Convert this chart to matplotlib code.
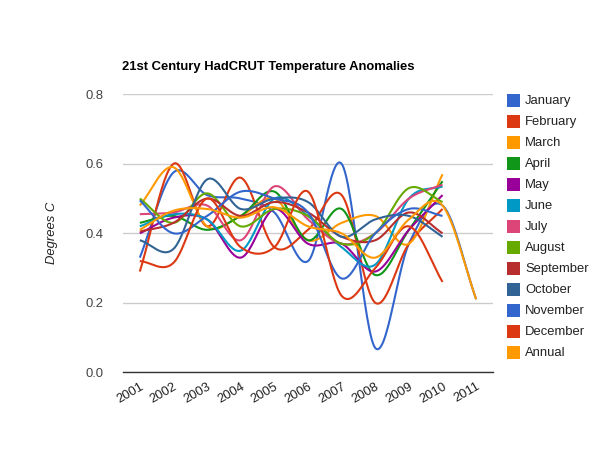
import numpy as np
import matplotlib.pyplot as plt
from matplotlib.patches import Rectangle

plt.rcParams['font.family'] = ['Liberation Sans', 'DejaVu Sans']

years = ['2001', '2002', '2003', '2004', '2005', '2006', '2007', '2008', '2009', '2010', '2011']

jan = [0.33, 0.575, 0.51, 0.50, 0.46, 0.32, 0.60, 0.07, 0.37, 0.48, 0.21]
feb = [0.29, 0.60, 0.42, 0.56, 0.36, 0.41, 0.51, 0.20, 0.37, 0.47]
mar = [0.48, 0.59, 0.42, 0.45, 0.50, 0.38, 0.43, 0.45, 0.37, 0.57]
apr = [0.43, 0.45, 0.41, 0.45, 0.52, 0.38, 0.47, 0.28, 0.41, 0.55]
may = [0.40, 0.445, 0.44, 0.33, 0.47, 0.37, 0.37, 0.29, 0.41, 0.51]
jun = [0.42, 0.455, 0.44, 0.35, 0.50, 0.45, 0.36, 0.31, 0.50, 0.535]
jul = [0.455, 0.46, 0.48, 0.38, 0.535, 0.44, 0.37, 0.40, 0.50, 0.54]
aug = [0.50, 0.43, 0.515, 0.42, 0.47, 0.45, 0.37, 0.40, 0.53, 0.49]
sep = [0.405, 0.43, 0.50, 0.45, 0.49, 0.46, 0.39, 0.38, 0.46, 0.40]
octo = [0.38, 0.355, 0.555, 0.47, 0.50, 0.49, 0.39, 0.44, 0.45, 0.39]
nov = [0.495, 0.40, 0.45, 0.52, 0.50, 0.46, 0.27, 0.40, 0.47, 0.45]
dec = [0.32, 0.315, 0.50, 0.36, 0.36, 0.52, 0.22, 0.30, 0.42, 0.26]
annual = [0.41, 0.465, 0.47, 0.445, 0.475, 0.42, 0.40, 0.33, 0.44, 0.48, 0.21]

names = ['January', 'February', 'March', 'April', 'May', 'June', 'July',
         'August', 'September', 'October', 'November', 'December', 'Annual']
series = [jan, feb, mar, apr, may, jun, jul, aug, sep, octo, nov, dec, annual]
colors = ['#3366cc', '#dc3912', '#ff9900', '#109618', '#990099', '#0099c6', '#dd4477',
          '#66aa00', '#b82e2e', '#316395', '#3366cc', '#dc3912', '#ff9900']


def smooth(ys, k=30):
    # catmull-rom style curve through the points (like curveType 'function')
    ys = np.asarray(ys, dtype=float)
    xs = np.arange(len(ys), dtype=float)
    m = np.gradient(ys, xs)
    px, py = [], []
    t = np.linspace(0, 1, k)
    h00 = 2 * t**3 - 3 * t**2 + 1
    h10 = t**3 - 2 * t**2 + t
    h01 = -2 * t**3 + 3 * t**2
    h11 = t**3 - t**2
    for i in range(len(ys) - 1):
        px.append(xs[i] + t)
        py.append(h00 * ys[i] + h10 * m[i] + h01 * ys[i + 1] + h11 * m[i + 1])
    return np.concatenate(px), np.concatenate(py)


fig = plt.figure(figsize=(6, 4.5), dpi=100)
ax = fig.add_axes([123 / 600, 1 - 372.3 / 450, 370 / 600, 278 / 450])

for vals, c in zip(series, colors):
    sx, sy = smooth(vals)
    ax.plot(sx, sy, color=c, lw=1.5, solid_capstyle='butt')

ax.set_xlim(-0.5, len(years) - 0.5)
ax.set_ylim(0, 0.8)
ax.set_yticks([0.0, 0.2, 0.4, 0.6, 0.8])
ax.set_yticklabels(['0.0', '0.2', '0.4', '0.6', '0.8'])
ax.set_xticks(range(len(years)))
ax.set_xticklabels(years, rotation=30, ha='right', rotation_mode='anchor')
ax.tick_params(axis='y', length=0, pad=14, labelsize=9.4, colors='#444444')
ax.tick_params(axis='x', length=0, pad=6, labelsize=9.4, colors='#222222')
ax.grid(axis='y', color='#cccccc', lw=1)
ax.set_axisbelow(True)
for s in ['top', 'right', 'left']:
    ax.spines[s].set_visible(False)
ax.spines['bottom'].set_color('#333333')
ax.spines['bottom'].set_linewidth(1)

fig.text(122 / 600, 1 - 67 / 450, '21st Century HadCRUT Temperature Anomalies',
         fontsize=9.4, fontweight='bold', va='center', ha='left', color='#000000')
fig.text(52 / 600, 1 - 233 / 450, 'Degrees C', rotation=90, style='italic',
         fontsize=9.4, va='center', ha='center', color='#222222')

# legend on the right
for i, (n, c) in enumerate(zip(names, colors)):
    yc = 100.7 + 21 * i
    fig.add_artist(Rectangle((507 / 600, 1 - (yc + 6.5) / 450), 13 / 600, 13 / 450,
                             transform=fig.transFigure, facecolor=c, edgecolor='none'))
    fig.text(525 / 600, 1 - yc / 450, n, fontsize=9.4, va='center', ha='left', color='#222222')

fig.savefig('out.png', dpi=100)
